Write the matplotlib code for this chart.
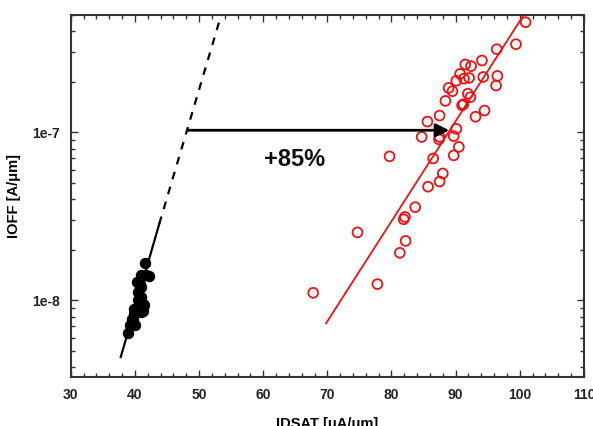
import matplotlib
matplotlib.use("Agg")
import matplotlib.pyplot as plt
from matplotlib.ticker import FixedLocator, MultipleLocator, LogLocator, NullFormatter, FuncFormatter

plt.rcParams['font.family'] = ['Liberation Sans', 'DejaVu Sans']

# Data
black_x = [38.9, 39.2, 39.6, 39.7, 39.8, 40.0, 39.9, 40.3, 40.5, 40.5, 40.8, 41.0,
           41.3, 41.3, 41.4, 41.0, 41.0, 41.8, 42.2, 41.6, 40.3, 41.0]
black_y = [6.4e-9, 7.1e-9, 7.8e-9, 7.8e-9, 8.3e-9, 7.1e-9, 8.9e-9, 9.0e-9, 1.0e-8, 1.12e-8,
           1.26e-8, 8.5e-9, 9.55e-9, 8.7e-9, 9.4e-9, 1.05e-8, 1.41e-8, 1.41e-8, 1.39e-8,
           1.66e-8, 1.28e-8, 1.2e-8]

red_x = [100.9, 99.4, 96.4, 94.1, 91.5, 92.4, 90.7, 92.1, 91.3, 90.1, 94.3, 96.5, 96.3,
         88.9, 89.5, 91.9, 92.3, 88.4, 91.2, 91.0, 94.5, 93.1, 87.5, 85.6, 90.1, 84.7,
         87.5, 87.4, 89.7, 90.5, 79.7, 86.5, 89.7, 88.0, 87.5, 85.7, 83.7, 82.1, 81.9,
         82.2, 81.3, 74.7, 77.8, 67.8]
red_y = [4.53e-7, 3.35e-7, 3.13e-7, 2.68e-7, 2.54e-7, 2.48e-7, 2.23e-7, 2.11e-7, 2.09e-7,
         2.03e-7, 2.14e-7, 2.17e-7, 1.90e-7, 1.84e-7, 1.76e-7, 1.70e-7, 1.62e-7, 1.54e-7,
         1.47e-7, 1.45e-7, 1.35e-7, 1.24e-7, 1.26e-7, 1.16e-7, 1.05e-7, 9.4e-8, 9.4e-8,
         9.1e-8, 9.5e-8, 8.2e-8, 7.2e-8, 7.0e-8, 7.3e-8, 5.7e-8, 5.1e-8, 4.75e-8, 3.59e-8,
         3.14e-8, 3.04e-8, 2.26e-8, 1.92e-8, 2.54e-8, 1.25e-8, 1.11e-8]

black_fit_x = [37.8, 43.8]
black_fit_y = [4.6e-9, 2.85e-8]
black_ext_x = [43.8, 53.1]
black_ext_y = [2.85e-8, 4.5e-7]
red_fit_x = [69.8, 100.6]
red_fit_y = [7.3e-9, 5.0e-7]

arrow_start = (48.2, 1.03e-7)
arrow_end = (89.0, 1.03e-7)
label_text = '+85%'
label_pos = (64.9, 6.9e-8)

xticks = [30, 40, 50, 60, 70, 80, 90, 100, 110]
yticks = [1e-8, 1e-7]
ytick_labels = ['1e-8', '1e-7']

fig = plt.figure(figsize=(5.93, 4.26), dpi=100)
ax = fig.add_axes([0.1192, 0.115, 0.8656, 0.8498])
ax.set_yscale('log')
ax.set_xlim(30, 110)
ax.set_ylim(3.5e-9, 5e-7)

ax.plot(black_fit_x, black_fit_y, color='black', lw=1.6, zorder=2)
ax.plot(black_ext_x, black_ext_y, color='black', lw=1.6, ls=(0, (3.5, 3.5)), zorder=2)
ax.plot(red_fit_x, red_fit_y, color='#ee1111', lw=1.3, zorder=2)

ax.scatter(black_x, black_y, s=52, color='black', zorder=3)
ax.scatter(red_x, red_y, s=50, facecolors='none', edgecolors='#ee1111', linewidths=1.3, zorder=3)

ax.annotate('', xy=arrow_end, xytext=arrow_start,
            arrowprops=dict(arrowstyle='-|>', color='black', lw=2.0, mutation_scale=20,
                            shrinkA=0, shrinkB=0), zorder=4)
ax.text(label_pos[0], label_pos[1], label_text, ha='center', va='center',
        fontsize=17, fontweight='bold', color='#111111')

ax.xaxis.set_major_locator(FixedLocator(xticks))
ax.xaxis.set_minor_locator(MultipleLocator(2))
ax.yaxis.set_major_locator(FixedLocator(yticks))
ax.yaxis.set_major_formatter(FuncFormatter(lambda v, p: ytick_labels[yticks.index(v)] if v in yticks else ''))
ax.yaxis.set_minor_locator(LogLocator(base=10, subs=range(2, 10)))
ax.yaxis.set_minor_formatter(NullFormatter())

ax.tick_params(which='both', direction='in', top=True, right=True, width=1.0, color='#333333')
ax.tick_params(which='major', length=5, labelsize=10, pad=8)
ax.tick_params(which='minor', length=3)
for lab in ax.get_xticklabels() + ax.get_yticklabels():
    lab.set_fontweight('bold')
    lab.set_color('#222222')
for s in ax.spines.values():
    s.set_linewidth(1.5)
    s.set_color('#333333')

ax.set_xlabel('IDSAT [μA/μm]', fontsize=10.5, fontweight='bold', labelpad=10.5)
ax.set_ylabel('IOFF [A/μm]', fontsize=10.5, fontweight='bold', labelpad=8)

fig.savefig('out.png', dpi=100)
